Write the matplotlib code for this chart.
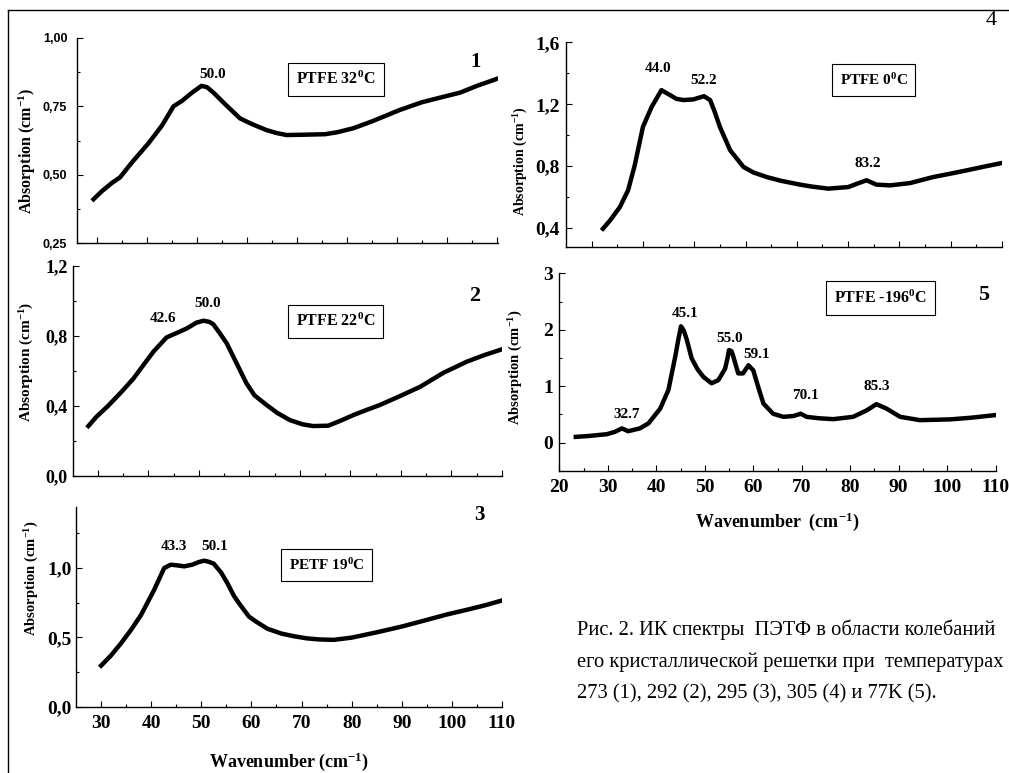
import numpy as np
import matplotlib
matplotlib.use('Agg')
import matplotlib.pyplot as plt
from matplotlib.lines import Line2D

## data ##
wn1 = [29.3, 31.0, 33.0, 34.6, 37.0, 40.3, 43.0, 45.3, 47.0, 49.0, 50.9, 52.0, 53.3, 55.5,
       58.6, 61.0, 63.9, 66.0, 67.9, 71.0, 75.6, 78.0, 81.3, 85.0, 90.6, 95.0, 99.3, 102.6,
       106.0, 109.9]
ab1 = [0.41, 0.44, 0.47, 0.49, 0.545, 0.615, 0.68, 0.75, 0.77, 0.80, 0.825, 0.82, 0.80, 0.76,
       0.706, 0.685, 0.663, 0.652, 0.645, 0.646, 0.648, 0.655, 0.67, 0.695, 0.737, 0.765,
       0.785, 0.80, 0.825, 0.85]

wn2 = [28.1, 29.7, 32.0, 34.4, 37.0, 39.0, 41.0, 43.6, 45.5, 47.6, 49.5, 50.9, 52.0, 52.8,
       54.0, 55.5, 57.5, 59.4, 61.0, 63.4, 65.5, 68.0, 70.5, 72.6, 75.6, 78.0, 80.6, 83.0,
       85.8, 89.8, 93.8, 98.4, 103.0, 106.5, 110.0]
ab2 = [0.285, 0.338, 0.40, 0.472, 0.555, 0.633, 0.71, 0.791, 0.815, 0.842, 0.875, 0.886,
       0.88, 0.867, 0.82, 0.757, 0.64, 0.529, 0.46, 0.405, 0.36, 0.319, 0.295, 0.285, 0.287,
       0.315, 0.348, 0.375, 0.405, 0.456, 0.509, 0.589, 0.652, 0.69, 0.723]

wn3 = [30.0, 32.0, 34.0, 36.0, 38.0, 40.6, 42.6, 43.9, 45.0, 46.6, 48.2, 49.5, 50.6, 51.5,
       52.5, 54.0, 55.2, 56.5, 57.5, 59.5, 61.0, 63.2, 66.0, 68.5, 71.0, 73.5, 76.4, 80.0,
       85.1, 90.0, 95.0, 99.0, 103.0, 106.5, 110.0]
ab3 = [0.296, 0.37, 0.458, 0.555, 0.663, 0.843, 1.0, 1.024, 1.02, 1.012, 1.024, 1.043, 1.053,
       1.045, 1.031, 0.965, 0.891, 0.80, 0.747, 0.650, 0.612, 0.562, 0.527, 0.508, 0.493,
       0.485, 0.482, 0.498, 0.537, 0.578, 0.626, 0.665, 0.699, 0.73, 0.766]

wn4 = [32.2, 33.6, 35.5, 37.1, 38.4, 40.0, 41.7, 43.6, 45.3, 46.5, 47.9, 49.8, 51.9, 53.1,
       54.0, 55.0, 57.0, 59.6, 61.5, 64.1, 67.0, 70.6, 73.0, 76.1, 80.0, 82.0, 83.6, 85.5,
       88.2, 92.1, 96.6, 100.0, 103.1, 106.5, 109.9]
ab4 = [0.396, 0.45, 0.536, 0.644, 0.806, 1.054, 1.183, 1.291, 1.259, 1.235, 1.227, 1.231,
       1.252, 1.227, 1.15, 1.054, 0.903, 0.795, 0.76, 0.730, 0.705, 0.681, 0.668, 0.655,
       0.665, 0.69, 0.709, 0.681, 0.676, 0.691, 0.73, 0.752, 0.773, 0.797, 0.82]

wn5 = [23.4, 26.0, 29.8, 31.5, 32.9, 34.2, 36.6, 38.4, 40.8, 42.5, 43.9, 44.6, 45.1, 45.7,
       46.3, 47.3, 48.5, 49.7, 51.4, 52.8, 54.2, 54.7, 55.0, 55.5, 55.8, 56.9, 57.9, 59.0,
       60.0, 61.0, 62.1, 64.1, 66.2, 68.3, 69.8, 71.0, 73.5, 76.5, 80.6, 83.4, 85.4, 87.5,
       90.3, 94.4, 100.6, 105.0, 109.8]
ab5 = [0.10, 0.115, 0.147, 0.19, 0.25, 0.20, 0.25, 0.34, 0.60, 0.93, 1.52, 1.85, 2.06, 1.98,
       1.82, 1.49, 1.30, 1.165, 1.05, 1.106, 1.31, 1.5, 1.64, 1.62, 1.55, 1.225, 1.225, 1.37,
       1.28, 0.99, 0.69, 0.51, 0.455, 0.47, 0.51, 0.455, 0.43, 0.414, 0.455, 0.57, 0.68,
       0.60, 0.455, 0.396, 0.41, 0.44, 0.485]

## peak labels ##
peaks1 = ['50.0']
peaks2 = ['42.6', '50.0']
peaks3 = ['43.3', '50.1']
peaks4 = ['44.0', '52.2', '83.2']
peaks5 = ['32.7', '45.1', '55.0', '59.1', '70.1', '85.3']

## tick labels ##
xt = [30, 40, 50, 60, 70, 80, 90, 100, 110]
xt5 = [20, 30, 40, 50, 60, 70, 80, 90, 100, 110]
yt1 = [0.25, 0.50, 0.75, 1.00]
yt1_lab = ['0,25', '0,50', '0,75', '1,00']
yt2 = [0.0, 0.4, 0.8, 1.2]
yt2_lab = ['0,0', '0,4', '0,8', '1,2']
yt3 = [0.0, 0.5, 1.0]
yt3_lab = ['0,0', '0,5', '1,0']
yt4 = [0.4, 0.8, 1.2, 1.6]
yt4_lab = ['0,4', '0,8', '1,2', '1,6']
yt5 = [0, 1, 2, 3]
yt5_lab = ['0', '1', '2', '3']

caption = ['Рис. 2. ИК спектры  ПЭТФ в области колебаний',
           'его кристаллической решетки при  температурах',
           '273 (1), 292 (2), 295 (3), 305 (4) и 77K (5).']

plt.rcParams['font.family'] = 'Liberation Serif'
plt.rcParams['font.weight'] = 'bold'
plt.rcParams['mathtext.fontset'] = 'custom'
plt.rcParams['mathtext.rm'] = 'Liberation Serif:bold'
plt.rcParams['mathtext.it'] = 'Liberation Serif:bold'
plt.rcParams['mathtext.bf'] = 'Liberation Serif:bold'

W, H = 1009, 773
fig = plt.figure(figsize=(W/100, H/100), dpi=100)

def rect(l, t, r, b):
    return [l/W, 1-b/H, (r-l)/W, (b-t)/H]

def fx(px):
    return px/W

def fy(py):
    return 1-py/H

def style(ax, xlim, ylim, yt, ylab, minor_y, ysize, ypad, xlabels=False, xticks=xt):
    ax.set_xlim(*xlim)
    ax.set_ylim(*ylim)
    for s in ['top', 'right']:
        ax.spines[s].set_visible(False)
    for s in ['left', 'bottom']:
        ax.spines[s].set_linewidth(1.0)
    ax.set_xticks(xticks)
    ax.set_xticks([v + 5 for v in xticks[:-1]] + ([25] if xlim[0] < 25 else []), minor=True)
    ax.set_yticks(yt)
    ax.set_yticklabels(ylab)
    ax.set_yticks(minor_y, minor=True)
    ax.tick_params(which='both', direction='in', width=0.8)
    ax.tick_params(which='major', length=4.5)
    ax.tick_params(which='minor', length=2.5)
    ax.tick_params(axis='y', labelsize=ysize, pad=ypad)
    if xlabels:
        ax.set_xticklabels([str(v) for v in xticks])
        ax.tick_params(axis='x', labelsize=14, pad=6)
    else:
        ax.set_xticklabels([])

lw = 3.2
box = dict(boxstyle='square,pad=0.5', fc='white', ec='black', lw=0.8)

## panel 1 ##
ax1 = fig.add_axes(rect(77, 38, 498, 243))
ax1.plot(wn1, ab1, color='black', lw=lw, solid_joinstyle='round')
style(ax1, (26, 110.2), (0.25, 1.0), yt1, yt1_lab, [0.375, 0.625, 0.875], 9, 7)
for t in ax1.get_yticklabels():
    t.set_family('Liberation Sans')
ax1.text(53.1, 0.865, peaks1[0], fontsize=11, ha='center', va='center')
ax1.text(77.8, 0.849, r'PTFE 32$^{0}$C', fontsize=11.5, ha='center', va='center', bbox=box)
ax1.text(105.8, 0.911, '1', fontsize=15, ha='center', va='center')

## panel 2 ##
ax2 = fig.add_axes(rect(72.7, 265.7, 502, 476))
ax2.plot(wn2, ab2, color='black', lw=lw, solid_joinstyle='round')
style(ax2, (25, 110), (0, 1.2), yt2, yt2_lab, [0.2, 0.6, 1.0], 13, 3.5)
ax2.text(42.9, 0.90, peaks2[0], fontsize=11, ha='center', va='center')
ax2.text(51.7, 0.985, peaks2[1], fontsize=11, ha='center', va='center')
ax2.text(77.1, 0.88, r'PTFE 22$^{0}$C', fontsize=11.5, ha='center', va='center', bbox=box)
ax2.text(104.5, 1.027, '2', fontsize=16, ha='center', va='center')

## panel 3 ##
ax3 = fig.add_axes(rect(76, 507, 502, 706.7))
ax3.plot(wn3, ab3, color='black', lw=lw, solid_joinstyle='round')
style(ax3, (25, 110), (0, 1.44), yt3, yt3_lab, [0.25, 0.75, 1.25], 14, 3, xlabels=True)
ax3.text(44.6, 1.156, peaks3[0], fontsize=11, ha='center', va='center')
ax3.text(52.7, 1.156, peaks3[1], fontsize=11, ha='center', va='center')
ax3.text(75.0, 1.022, r'PETF 19$^{0}$C', fontsize=11, ha='center', va='center', bbox=box)
ax3.text(105.4, 1.385, '3', fontsize=15, ha='center', va='center')

## panel 4 ##
ax4 = fig.add_axes(rect(566, 42.3, 1002, 246.7))
ax4.plot(wn4, ab4, color='black', lw=lw, solid_joinstyle='round')
style(ax4, (25, 110), (0.28, 1.6), yt4, yt4_lab, [0.6, 1.0, 1.4], 14, 4.5)
ax4.text(42.9, 1.432, peaks4[0], fontsize=11, ha='center', va='center')
ax4.text(51.9, 1.356, peaks4[1], fontsize=11, ha='center', va='center')
ax4.text(83.8, 0.817, peaks4[2], fontsize=11, ha='center', va='center')
ax4.text(85.0, 1.356, r'PTFE 0$^{0}$C', fontsize=11, ha='center', va='center', bbox=box)
ax4.text(107.8, 1.74, '4', fontsize=16, fontweight='normal', ha='center', va='center')

## panel 5 ##
ax5 = fig.add_axes(rect(559.3, 273.3, 995.7, 470.7))
ax5.plot(wn5, ab5, color='black', lw=lw, solid_joinstyle='round')
style(ax5, (20, 110), (-0.5, 3), yt5, yt5_lab, [-0.5, 0.5, 1.5, 2.5], 14, 4.5,
      xlabels=True, xticks=xt5)
ax5.tick_params(axis='x', pad=6)
pk5 = [(33.9, 0.50), (45.9, 2.28), (55.2, 1.85), (60.6, 1.56), (70.8, 0.84), (85.5, 1.0)]
for lab, (px, py) in zip(peaks5, pk5):
    ax5.text(px, py, lab, fontsize=11, ha='center', va='center')
ax5.text(86.3, 2.56, r'PTFE -196$^{0}$C', fontsize=11.5, ha='center', va='center', bbox=box)
ax5.text(107.6, 2.61, '5', fontsize=16, ha='center', va='center')

## axis titles ##
ylab = r'Absorption (cm$^{-1}$)'
fig.text(fx(27), fy(150.8), ylab, rotation=90, fontsize=11.5, ha='center', va='center')
fig.text(fx(27), fy(361.7), ylab, rotation=90, fontsize=11, ha='center', va='center')
fig.text(fx(32), fy(578.3), ylab, rotation=90, fontsize=10.5, ha='center', va='center')
fig.text(fx(521), fy(160.8), ylab, rotation=90, fontsize=10, ha='center', va='center')
fig.text(fx(516), fy(367.5), ylab, rotation=90, fontsize=10.5, ha='center', va='center')
fig.text(fx(289), fy(762), r'Wavenumber (cm$^{-1}$)', fontsize=13, ha='center', va='center')
fig.text(fx(777.5), fy(522), r'Wavenumber  (cm$^{-1}$)', fontsize=13, ha='center', va='center')

## caption ##
for i, line in enumerate(caption):
    fig.text(fx(577), fy(635 + 31.5*i), line, fontsize=14.8, fontweight='normal',
             ha='left', va='baseline')

## frame around the figure ##
fig.add_artist(Line2D([fx(8), 1.0], [fy(10), fy(10)], color='black', lw=1.0))
fig.add_artist(Line2D([fx(8), fx(8)], [fy(10), 0.0], color='black', lw=1.0))

fig.savefig('out.png', dpi=100)
